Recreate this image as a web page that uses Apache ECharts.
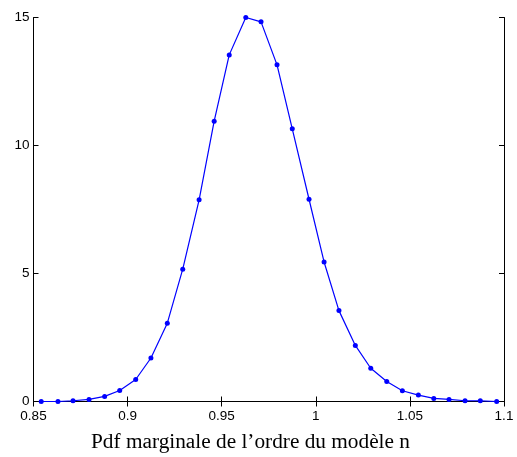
<!DOCTYPE html>
<html>
<head>
<meta charset="utf-8">
<script src="https://cdn.jsdelivr.net/npm/echarts@6/dist/echarts.min.js"></script>
<style>
    html, body { margin: 0; padding: 0; background: #fff; }
    #chart { width: 517px; height: 457px; }
</style>
</head>
<body>
<div id="chart"></div>
<script>
    // valeurs
    var xValues = [0.8541, 0.8630, 0.8710, 0.8795, 0.8878, 0.8958, 0.9043, 0.9124, 0.9211, 0.9293,
        0.9380, 0.9460, 0.9540, 0.9628, 0.9709, 0.9794, 0.9875, 0.9964, 1.0044, 1.0123,
        1.0210, 1.0292, 1.0377, 1.0460, 1.0545, 1.0627, 1.0708, 1.0793, 1.0874, 1.0961];
    var pdfValues = [0.00, 0.00, 0.03, 0.08, 0.20, 0.43, 0.86, 1.70, 3.06, 5.17,
        7.88, 10.95, 13.54, 15.00, 14.83, 13.15, 10.65, 7.90, 5.45, 3.55,
        2.19, 1.30, 0.78, 0.42, 0.25, 0.12, 0.08, 0.03, 0.03, 0.00];
    var xTicks = [0.85, 0.9, 0.95, 1, 1.05, 1.1];
    var yTicks = [0, 5, 10, 15];
    var titleText = 'Pdf marginale de l\u2019ordre du modèle n';

    var points = [];
    for (var i = 0; i < xValues.length; i++) {
        points.push([xValues[i], pdfValues[i]]);
    }

    var myChart = echarts.init(document.getElementById('chart'));

    var axisLine = {show: true, lineStyle: {color: '#000', width: 1}};
    var axisTick = {show: true, inside: true, length: 5, lineStyle: {color: '#000', width: 1}};
    var labelFont = {color: '#000', fontSize: 13.5, fontFamily: 'Liberation Sans, Arial, sans-serif'};

    myChart.setOption({
        animation: false,
        grid: {left: 33.5, right: 13, top: 17.5, bottom: 55.5, containLabel: false},
        graphic: [{
            type: 'text',
            left: 91,
            top: 432,
            style: {
                text: titleText,
                fill: '#000',
                font: '21.3px "Liberation Serif", "Times New Roman", serif'
            }
        }],
        xAxis: [{
            type: 'value',
            min: xTicks[0],
            max: xTicks[xTicks.length - 1],
            interval: 0.05,
            axisLine: axisLine,
            axisTick: axisTick,
            splitLine: {show: false},
            axisLabel: Object.assign({margin: 8}, labelFont, {
                formatter: function (v) { return String(+v.toFixed(2)); }
            })
        }, {
            type: 'value',
            position: 'top',
            min: xTicks[0],
            max: xTicks[xTicks.length - 1],
            interval: 0.05,
            axisLine: axisLine,
            axisTick: axisTick,
            splitLine: {show: false},
            axisLabel: {show: false}
        }],
        yAxis: [{
            type: 'value',
            min: yTicks[0],
            max: yTicks[yTicks.length - 1],
            interval: 5,
            axisLine: axisLine,
            axisTick: axisTick,
            splitLine: {show: false},
            axisLabel: Object.assign({margin: 4}, labelFont)
        }, {
            type: 'value',
            position: 'right',
            min: yTicks[0],
            max: yTicks[yTicks.length - 1],
            interval: 5,
            axisLine: axisLine,
            axisTick: axisTick,
            splitLine: {show: false},
            axisLabel: {show: false}
        }],
        series: [{
            type: 'line',
            data: points,
            symbol: 'circle',
            symbolSize: 5,
            showSymbol: true,
            lineStyle: {color: '#0000ff', width: 1.2},
            itemStyle: {color: '#0000ff'}
        }]
    });
</script>
</body>
</html>
